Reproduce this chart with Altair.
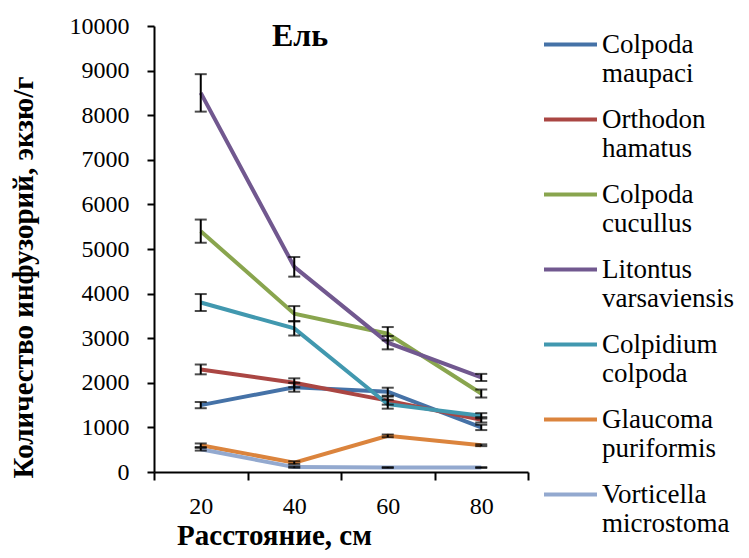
import altair as alt
import pandas as pd

distances = [20, 40, 60, 80]
species = ["Colpoda maupaci", "Orthodon hamatus", "Colpoda cucullus",
           "Litontus varsaviensis", "Colpidium colpoda", "Glaucoma puriformis",
           "Vorticella microstoma"]
colors = ["#4572A7", "#AA4643", "#89A54E", "#71588F", "#4198AF", "#DB843D", "#93A9CF"]

maupaci = [1500, 1900, 1800, 1000]
hamatus = [2300, 2000, 1600, 1170]
cucullus = [5400, 3550, 3100, 1760]
litontus = [8500, 4600, 2900, 2120]
colpidium = [3800, 3220, 1520, 1260]
glaucoma = [600, 210, 810, 600]
vorticella = [510, 110, 100, 100]

maupaci_err = [70, 100, 90, 60]
hamatus_err = [110, 100, 90, 60]
cucullus_err = [260, 170, 150, 90]
litontus_err = [420, 220, 150, 80]
colpidium_err = [190, 160, 100, 60]
glaucoma_err = [40, 30, 30, 20]
vorticella_err = [30, 15, 10, 10]

series = [maupaci, hamatus, cucullus, litontus, colpidium, glaucoma, vorticella]
errs = [maupaci_err, hamatus_err, cucullus_err, litontus_err, colpidium_err,
        glaucoma_err, vorticella_err]

rows = []
for i, (sp, vals, es) in enumerate(zip(species, series, errs)):
    for d, v, e in zip(distances, vals, es):
        rows.append(dict(species=sp, idx=i, dist=d, value=v, lo=v - e, hi=v + e))
df = pd.DataFrame(rows)

FONT = "Liberation Serif"

x = alt.X("dist:O",
          bandPosition=0.5,
          scale=alt.Scale(type="band", paddingInner=0, paddingOuter=0),
          axis=alt.Axis(title="Расстояние, см", tickBand="extent", labelAngle=0,
                        labelPadding=14, tickSize=8,
                        titleX=120, titleY=72, titleBaseline="alphabetic",
                        titleAlign="center"))
y = alt.Y("value:Q",
          scale=alt.Scale(domain=[0, 10000], nice=False),
          axis=alt.Axis(title="Количество инфузорий, экзю/г", format="d",
                        values=list(range(0, 10001, 1000)), grid=False,
                        tickSize=7, labelPadding=18,
                        titleX=-131, titleY=251, titleAngle=270,
                        titleBaseline="middle", titleAlign="center"))

color = alt.Color("species:N",
                  scale=alt.Scale(domain=species, range=colors),
                  sort=species,
                  legend=alt.Legend(title=None, orient="none", legendX=388, legendY=-10,
                                    symbolType="stroke", symbolSize=2809,
                                    symbolStrokeWidth=4, labelOffset=3,
                                    labelFont=FONT, labelFontSize=27,
                                    labelColor="black", labelLimit=300,
                                    labelBaseline="middle",
                                    labelExpr="split(datum.label, ' ')",
                                    rowPadding=4))

lines = alt.Chart(df).mark_line(strokeWidth=4).encode(
    x=x, y=y, color=color, order=alt.Order("dist:O"),
    detail="species:N")

rules = alt.Chart(df).mark_rule(color="black", strokeWidth=2).encode(
    x=alt.X("dist:O", bandPosition=0.5), y="lo:Q", y2="hi:Q")
cap_lo = alt.Chart(df).mark_tick(color="black", thickness=2, size=12,
                                 orient="horizontal").encode(
    x=alt.X("dist:O", bandPosition=0.5), y="lo:Q")
cap_hi = alt.Chart(df).mark_tick(color="black", thickness=2, size=12,
                                 orient="horizontal").encode(
    x=alt.X("dist:O", bandPosition=0.5), y="hi:Q")

chart = alt.layer(lines, rules, cap_lo, cap_hi).properties(
    width=374, height=446,
    background="white",
    autosize=alt.AutoSizeParams(type="none"),
    padding={"left": 146, "top": 18, "right": 213, "bottom": 78},
    title=alt.TitleParams("Ель", font=FONT, fontSize=32, fontWeight="bold",
                          anchor="middle", dx=-41, dy=43, color="black"),
).configure_view(stroke=None).configure_axis(
    domainColor="black", domainWidth=2, tickColor="black", tickWidth=2,
    labelFont=FONT, labelFontSize=24, labelColor="black",
    titleFont=FONT, titleFontSize=29, titleFontWeight="bold", titleColor="black",
)

chart.save("out.html", embed_options={"renderer": "svg", "actions": False})
